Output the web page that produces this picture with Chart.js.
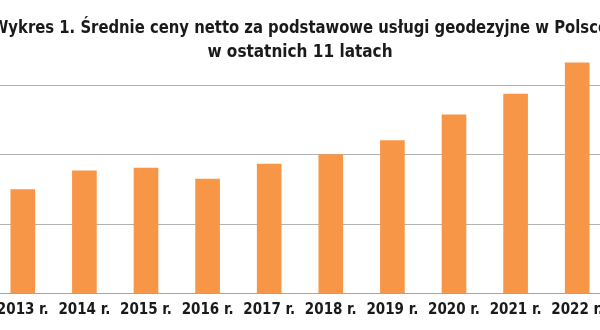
<!DOCTYPE html>
<html>
<head>
<meta charset="utf-8">
<script src="https://cdn.jsdelivr.net/npm/chart.js@4"></script>
<style>
    html, body { margin: 0; padding: 0; background: #fff; overflow: hidden; }
    #wrap { position: absolute; left: -60px; top: 0; width: 720px; height: 330px; }
</style>
</head>
<body>
<div id="wrap"><canvas id="chart"></canvas></div>
<script>
// dane do wykresu
var years = ['2013 r.', '2014 r.', '2015 r.', '2016 r.', '2017 r.', '2018 r.', '2019 r.', '2020 r.', '2021 r.', '2022 r.'];
var prices = [751, 887, 906, 828, 935, 1003, 1104, 1290, 1440, 1665];
var titleLines = ['Wykres 1. Średnie ceny netto za podstawowe usługi geodezyjne w Polsce', 'w ostatnich 11 latach'];

var fontFamily = '"DejaVu Sans", sans-serif';

var ctx = document.getElementById('chart').getContext('2d');
var chart = new Chart(ctx, {
    type: 'bar',
    data: {
        labels: years,
        datasets: [{
            data: prices,
            backgroundColor: '#F79646',
            borderWidth: 0,
            categoryPercentage: 1,
            barPercentage: 0.4
        }]
    },
    options: {
        responsive: true,
        maintainAspectRatio: false,
        animation: false,
        // wykres wycięty z lewej i prawej strony, jak w oryginale
        layout: { padding: { top: 0, bottom: 2.4, left: 52, right: 52 } },
        plugins: {
            legend: { display: false },
            tooltip: { enabled: false },
            title: {
                display: true,
                text: titleLines,
                color: '#1a1a1a',
                font: { family: fontFamily, size: 17, weight: 'bold condensed', lineHeight: 1.4 },
                padding: { top: 17, bottom: -7 }
            }
        },
        scales: {
            x: {
                grid: { display: false, drawTicks: false },
                border: { display: true, color: '#a6a6a6', width: 1 },
                ticks: {
                    color: '#1a1a1a',
                    padding: 8,
                    maxRotation: 0,
                    minRotation: 0,
                    autoSkip: false,
                    font: { family: fontFamily, size: 15, weight: 'bold condensed' }
                }
            },
            y: {
                min: 0,
                max: 1700,
                ticks: { display: false, stepSize: 100 },
                border: { display: false },
                grid: {
                    drawTicks: false,
                    // linie siatki co 500
                    color: function (c) {
                        return c.tick && c.tick.value % 500 === 0 ? '#b3b3b3' : 'rgba(0,0,0,0)';
                    },
                    lineWidth: 1
                }
            }
        }
    }
});
</script>
</body>
</html>
